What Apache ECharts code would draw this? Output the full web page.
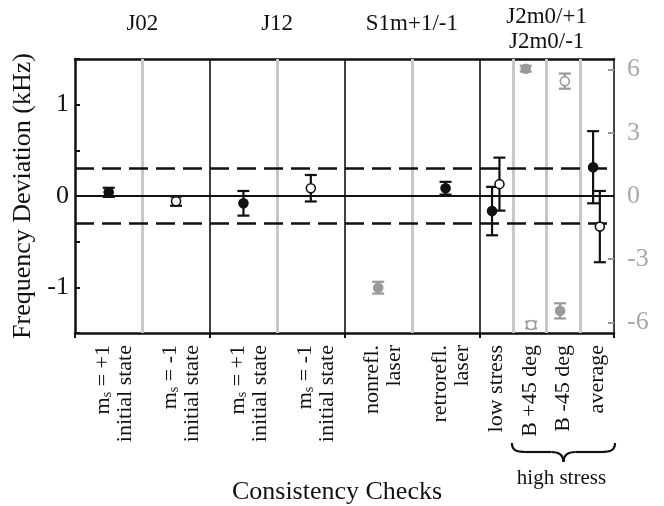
<!DOCTYPE html>
<html>
<head>
<meta charset="utf-8">
<script src="https://cdn.jsdelivr.net/npm/echarts@6/dist/echarts.min.js"></script>
<style>
html,body{margin:0;padding:0;background:#fff;}
#chart{width:664px;height:506px;}
</style>
</head>
<body>
<div id="chart"></div>
<script>
// ---- data ----
const categoryLabels = [
  '{sp| }\n{m|m}{s|s}{m| = +1}\n{m|initial state}',
  '{sp| }\n{m|m}{s|s}{m| = -1}\n{m|initial state}',
  '{sp| }\n{m|m}{s|s}{m| = +1}\n{m|initial state}',
  '{sp| }\n{m|m}{s|s}{m| = -1}\n{m|initial state}',
  '{sp| }\n{m|nonrefl.}\n{m|laser}',
  '{sp| }\n{m|retrorefl.}\n{m|laser}',
  '{m|low stress}',
  '{m|B +45 deg}',
  '{m|B -45 deg}',
  '{m|average}'
];
const categoryCenters = [0.5, 1.5, 2.5, 3.5, 4.5, 5.5, 6.25, 6.75, 7.25, 7.75];
const groupLabels = ['J02', 'J12', 'S1m+1/-1', 'J2m0/+1\nJ2m0/-1'];
const groupCenters = [1, 3, 5, 7];
const blackSeparators = [2, 4, 6];
const greySeparators = [1, 3, 5, 6.5, 7, 7.5];
const dashedLevels = [0.3, -0.3];
const leftTickLabels = [-1, 0, 1];
const rightTickLabels = [-6, -3, 0, 3, 6];
const bottomTicks = [0, 2, 4, 6, 8];
// [x position, value, error]  (left axis, kHz)
const blackFilled = [[0.5, 0.04, 0.05], [2.5, -0.08, 0.135], [5.5, 0.085, 0.07], [6.19, -0.165, 0.265], [7.69, 0.315, 0.395]];
const blackOpen = [[1.5, -0.057, 0.05], [3.5, 0.085, 0.145], [6.30, 0.13, 0.29], [7.79, -0.335, 0.39]];
// right axis values
const greyFilled = [[4.5, -4.35, 0.28], [6.69, 6.04, 0.14], [7.20, -5.45, 0.36]];
const greyOpen = [[6.77, -6.12, 0.16], [7.27, 5.45, 0.36]];
const highStressSpan = [6.5, 8];

const FONT = 'Liberation Serif';
const GREY = '#9a9a9a';
const GREYTEXT = '#a8a8a8';
const GREYLINE = '#c8c8c8';

function errRender(fill, stroke) {
  return function (params, api) {
    const x = api.value(0), y = api.value(1), e = api.value(2);
    const c = api.coord([x, y]);
    const t = api.coord([x, y + e]);
    const b = api.coord([x, y - e]);
    const cap = 6;
    const ls = {stroke: stroke, lineWidth: 2.2};
    return {
      type: 'group',
      children: [
        {type: 'line', shape: {x1: c[0], y1: t[1], x2: c[0], y2: b[1]}, style: ls},
        {type: 'line', shape: {x1: c[0] - cap, y1: t[1], x2: c[0] + cap, y2: t[1]}, style: ls},
        {type: 'line', shape: {x1: c[0] - cap, y1: b[1], x2: c[0] + cap, y2: b[1]}, style: ls},
        {type: 'circle', shape: {cx: c[0], cy: c[1], r: 4.5}, style: {fill: fill, stroke: stroke, lineWidth: 1.6}}
      ]
    };
  };
}

const chart = echarts.init(document.getElementById('chart'), null, {renderer: 'canvas'});

const vLines = greySeparators.map(v => ({xAxis: v, lineStyle: {color: GREYLINE, width: 3, type: 'solid'}}))
  .concat(blackSeparators.map(v => ({xAxis: v, lineStyle: {color: '#111', width: 1.6, type: 'solid'}})));
const hLines = [{yAxis: 0, lineStyle: {color: '#111', width: 2, type: 'solid'}}]
  .concat(dashedLevels.map(v => ({yAxis: v, lineStyle: {color: '#111', width: 2.5, type: [19, 8]}})));

const option = {
  animation: false,
  backgroundColor: '#fff',
  textStyle: {fontFamily: FONT},
  grid: {left: 75, right: 50, top: 59, bottom: 173, show: false, containLabel: false, outerBoundsMode: 'none'},
  xAxis: [{
    type: 'value', min: 0, max: 8, position: 'bottom',
    splitLine: {show: false},
    axisLine: {show: true, onZero: false, lineStyle: {color: '#111', width: 2.5}},
    axisTick: {show: true, inside: false, length: 5, customValues: bottomTicks, lineStyle: {color: '#111', width: 2}},
    axisLabel: {
      customValues: categoryCenters, rotate: 90, margin: 12,
      formatter: function (v) { const i = categoryCenters.indexOf(v); return i >= 0 ? categoryLabels[i] : ''; },
      rich: {
        sp: {fontFamily: FONT, fontSize: 1, lineHeight: 11},
        m: {fontFamily: FONT, fontSize: 22, lineHeight: 22, color: '#111'},
        s: {fontFamily: FONT, fontSize: 14, lineHeight: 14, color: '#111', verticalAlign: 'bottom'}
      }
    },
    name: 'Consistency Checks', nameLocation: 'middle', nameGap: 146,
    nameTextStyle: {fontFamily: FONT, fontSize: 26, color: '#111', padding: [0, 15, 0, 0]}
  }, {
    type: 'value', min: 0, max: 8, position: 'top',
    splitLine: {show: false},
    axisLine: {show: true, onZero: false, lineStyle: {color: '#111', width: 2.5}},
    axisTick: {show: false}, axisLabel: {show: false}
  }],
  yAxis: [{
    type: 'value', min: -1.5, max: 1.5, interval: 0.5, position: 'left',
    splitLine: {show: false},
    axisLine: {show: true, onZero: false, lineStyle: {color: '#111', width: 2.5}},
    axisTick: {show: true, inside: true, length: 5, lineStyle: {color: '#111', width: 2}},
    axisLabel: {customValues: leftTickLabels, margin: 6, fontFamily: FONT, fontSize: 26, color: '#111'},
    name: 'Frequency Deviation (kHz)', nameLocation: 'middle', nameGap: 29,
    nameTextStyle: {fontFamily: FONT, fontSize: 26, color: '#111'}
  }, {
    type: 'value', min: -6.5, max: 6.5, position: 'right',
    splitLine: {show: false},
    axisLine: {show: true, onZero: false, lineStyle: {color: '#444', width: 2}},
    axisTick: {show: true, inside: true, length: 6, customValues: rightTickLabels, lineStyle: {color: GREY, width: 2}},
    axisLabel: {customValues: rightTickLabels, margin: 13, fontFamily: FONT, fontSize: 26, color: GREYTEXT}
  }],
  series: [
    {
      type: 'line', data: [], xAxisIndex: 0, yAxisIndex: 0, z: 1, silent: true,
      markLine: {symbol: ['none', 'none'], silent: true, label: {show: false}, animation: false, data: vLines.concat(hLines)}
    },
    {type: 'custom', name: 'grey filled', xAxisIndex: 0, yAxisIndex: 1, z: 5, renderItem: errRender(GREY, GREY), data: greyFilled},
    {type: 'custom', name: 'grey open', xAxisIndex: 0, yAxisIndex: 1, z: 5, renderItem: errRender('#fff', GREY), data: greyOpen},
    {type: 'custom', name: 'black filled', xAxisIndex: 0, yAxisIndex: 0, z: 6, renderItem: errRender('#111', '#111'), data: blackFilled},
    {type: 'custom', name: 'black open', xAxisIndex: 0, yAxisIndex: 0, z: 7, renderItem: errRender('#fff', '#111'), data: blackOpen}
  ]
};
chart.setOption(option);

// group labels above the plot and the "high stress" brace
const graphics = [];
groupLabels.forEach(function (txt, i) {
  const px = chart.convertToPixel({xAxisIndex: 0}, groupCenters[i]);
  const two = txt.indexOf('\n') >= 0;
  graphics.push({
    type: 'text', x: px, y: two ? 29.5 : 24,
    style: {text: txt, fontFamily: FONT, fontSize: 23, lineHeight: 25, fill: '#111', align: 'center', verticalAlign: 'middle'}
  });
});
const bx1 = chart.convertToPixel({xAxisIndex: 0}, highStressSpan[0]) - 1;
const bx2 = chart.convertToPixel({xAxisIndex: 0}, highStressSpan[1]) + 1;
const bm = (bx1 + bx2) / 2;
const y0 = 443, yh = y0 + 9, yt = y0 + 19;
const bs = {fill: 'none', stroke: '#111', lineWidth: 2.2};
graphics.push(
  {type: 'bezierCurve', shape: {x1: bx1, y1: y0, cpx1: bx1, cpy1: y0 + 7, cpx2: bx1 + 4, cpy2: yh, x2: bx1 + 14, y2: yh}, style: bs},
  {type: 'line', shape: {x1: bx1 + 14, y1: yh, x2: bm - 12, y2: yh}, style: bs},
  {type: 'bezierCurve', shape: {x1: bm - 12, y1: yh, cpx1: bm - 4, cpy1: yh, cpx2: bm, cpy2: y0 + 12, x2: bm, y2: yt}, style: bs},
  {type: 'bezierCurve', shape: {x1: bm, y1: yt, cpx1: bm, cpy1: y0 + 12, cpx2: bm + 4, cpy2: yh, x2: bm + 12, y2: yh}, style: bs},
  {type: 'line', shape: {x1: bm + 12, y1: yh, x2: bx2 - 14, y2: yh}, style: bs},
  {type: 'bezierCurve', shape: {x1: bx2 - 14, y1: yh, cpx1: bx2 - 4, cpy1: yh, cpx2: bx2, cpy2: y0 + 7, x2: bx2, y2: y0}, style: bs}
);
graphics.push({
  type: 'text', x: bm - 2, y: 478,
  style: {text: 'high stress', fontFamily: FONT, fontSize: 21, fill: '#111', align: 'center', verticalAlign: 'middle'}
});
chart.setOption({graphic: graphics});
</script>
</body>
</html>
